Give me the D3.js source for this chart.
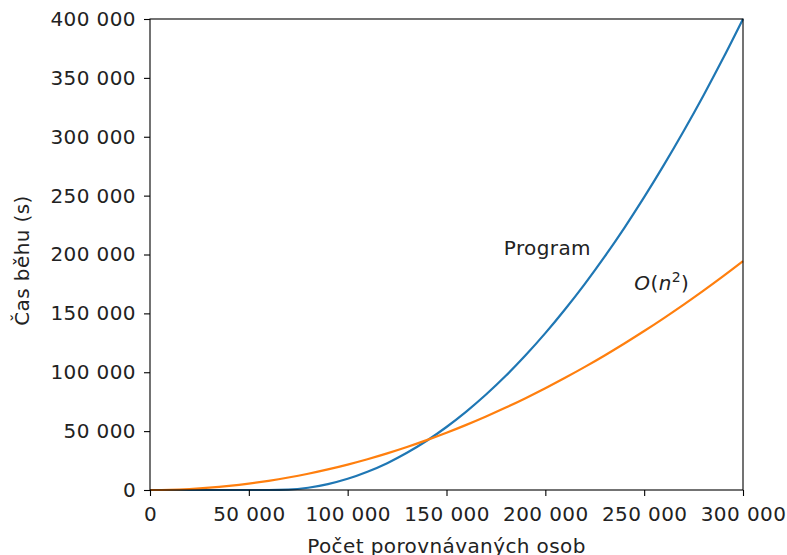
<!DOCTYPE html>
<html>
<head>
<meta charset="utf-8">
<script src="https://cdn.jsdelivr.net/npm/d3@7"></script>
<style>
  body { margin: 0; background: #fff; }
  svg { font-family: "DejaVu Sans", sans-serif; }
  text { letter-spacing: 0.4px; }
</style>
</head>
<body>
<svg width="787" height="555"></svg>
<script>
// Values
var counts = [0, 10000, 20000, 30000, 40000, 50000, 60000, 70000, 80000, 90000,
  100000, 110000, 120000, 130000, 140000, 150000, 160000, 170000, 180000, 190000,
  200000, 210000, 220000, 230000, 240000, 250000, 260000, 270000, 280000, 290000, 300000];

var programTimes = [0, 0, 0, 0, 0, 0, 0, 300, 1900, 5000,
  9500, 15500, 22800, 31600, 41800, 53500, 66600, 81100, 97000, 114400,
  133200, 153500, 175100, 198200, 222700, 248700, 276100, 304900, 335100, 366800, 400000];

var quadTimes = [0, 200, 860, 1940, 3460, 5400, 7780, 10580, 13820, 17500,
  21600, 26140, 31100, 36500, 42340, 48600, 55300, 62420, 69980, 77980,
  86400, 95260, 104540, 114260, 124420, 135000, 146020, 157460, 169340, 181660, 194400];

var xTicks = [0, 50000, 100000, 150000, 200000, 250000, 300000];
var yTicks = [0, 50000, 100000, 150000, 200000, 250000, 300000, 350000, 400000];

var svg = d3.select("svg"),
  margin = { top: 19, right: 44, bottom: 65, left: 150 },
  width = svg.attr("width") - margin.left - margin.right,
  height = svg.attr("height") - margin.top - margin.bottom;

var g = svg.append("g")
  .attr("transform", "translate(" + margin.left + "," + margin.top + ")");

var x = d3.scaleLinear().domain([0, 300000]).range([0, width]);
var y = d3.scaleLinear().domain([0, 400000]).range([height, 0]);

// thousands separated by a space
var fmt = function (d) { return d3.format(",")(d).replace(/,/g, " "); };

var fontSize = 20;

var line = function (vals) {
  return d3.line()
    .x(function (d, i) { return x(counts[i]); })
    .y(function (d) { return y(d); })
    .curve(d3.curveMonotoneX)(vals);
};

g.append("path")
  .attr("d", line(programTimes))
  .attr("fill", "none")
  .attr("stroke", "#1f77b4")
  .attr("stroke-width", 2.2);

g.append("path")
  .attr("d", line(quadTimes))
  .attr("fill", "none")
  .attr("stroke", "#ff7f0e")
  .attr("stroke-width", 2.2);

// frame
g.append("rect")
  .attr("width", width)
  .attr("height", height)
  .attr("fill", "none")
  .attr("stroke", "#000")
  .attr("stroke-width", 1.1);

var xAxis = g.append("g")
  .attr("transform", "translate(0," + height + ")")
  .call(d3.axisBottom(x).tickValues(xTicks).tickFormat(fmt).tickSize(6).tickPadding(11));

var yAxis = g.append("g")
  .call(d3.axisLeft(y).tickValues(yTicks).tickFormat(fmt).tickSize(6).tickPadding(8));

[xAxis, yAxis].forEach(function (a) {
  a.select(".domain").remove();
  a.selectAll("line").attr("stroke", "#000").attr("stroke-width", 1.1);
  a.selectAll("text")
    .attr("fill", "#222")
    .style("font-size", fontSize + "px")
    .style("font-family", "DejaVu Sans, sans-serif");
});

// axis labels
svg.append("text")
  .attr("x", margin.left + width / 2)
  .attr("y", 553)
  .attr("text-anchor", "middle")
  .attr("fill", "#222")
  .style("font-size", fontSize + "px")
  .text("Počet porovnávaných osob");

svg.append("text")
  .attr("transform", "translate(29," + (margin.top + height / 2 + 6) + ") rotate(-90)")
  .attr("text-anchor", "middle")
  .attr("fill", "#222")
  .style("font-size", fontSize + "px")
  .text("Čas běhu (s)");

// curve annotations
g.append("text")
  .attr("x", x(179000))
  .attr("y", y(200000))
  .attr("fill", "#222")
  .style("font-size", fontSize + "px")
  .text("Program");

var oLabel = g.append("text")
  .attr("x", x(245000))
  .attr("y", y(170000))
  .attr("fill", "#222")
  .style("font-size", fontSize + "px");
oLabel.append("tspan").style("font-style", "italic").text("O");
oLabel.append("tspan").text("(");
oLabel.append("tspan").style("font-style", "italic").text("n");
oLabel.append("tspan").attr("dy", -8).style("font-size", "14px").text("2");
oLabel.append("tspan").attr("dy", 8).text(")");
</script>
</body>
</html>
